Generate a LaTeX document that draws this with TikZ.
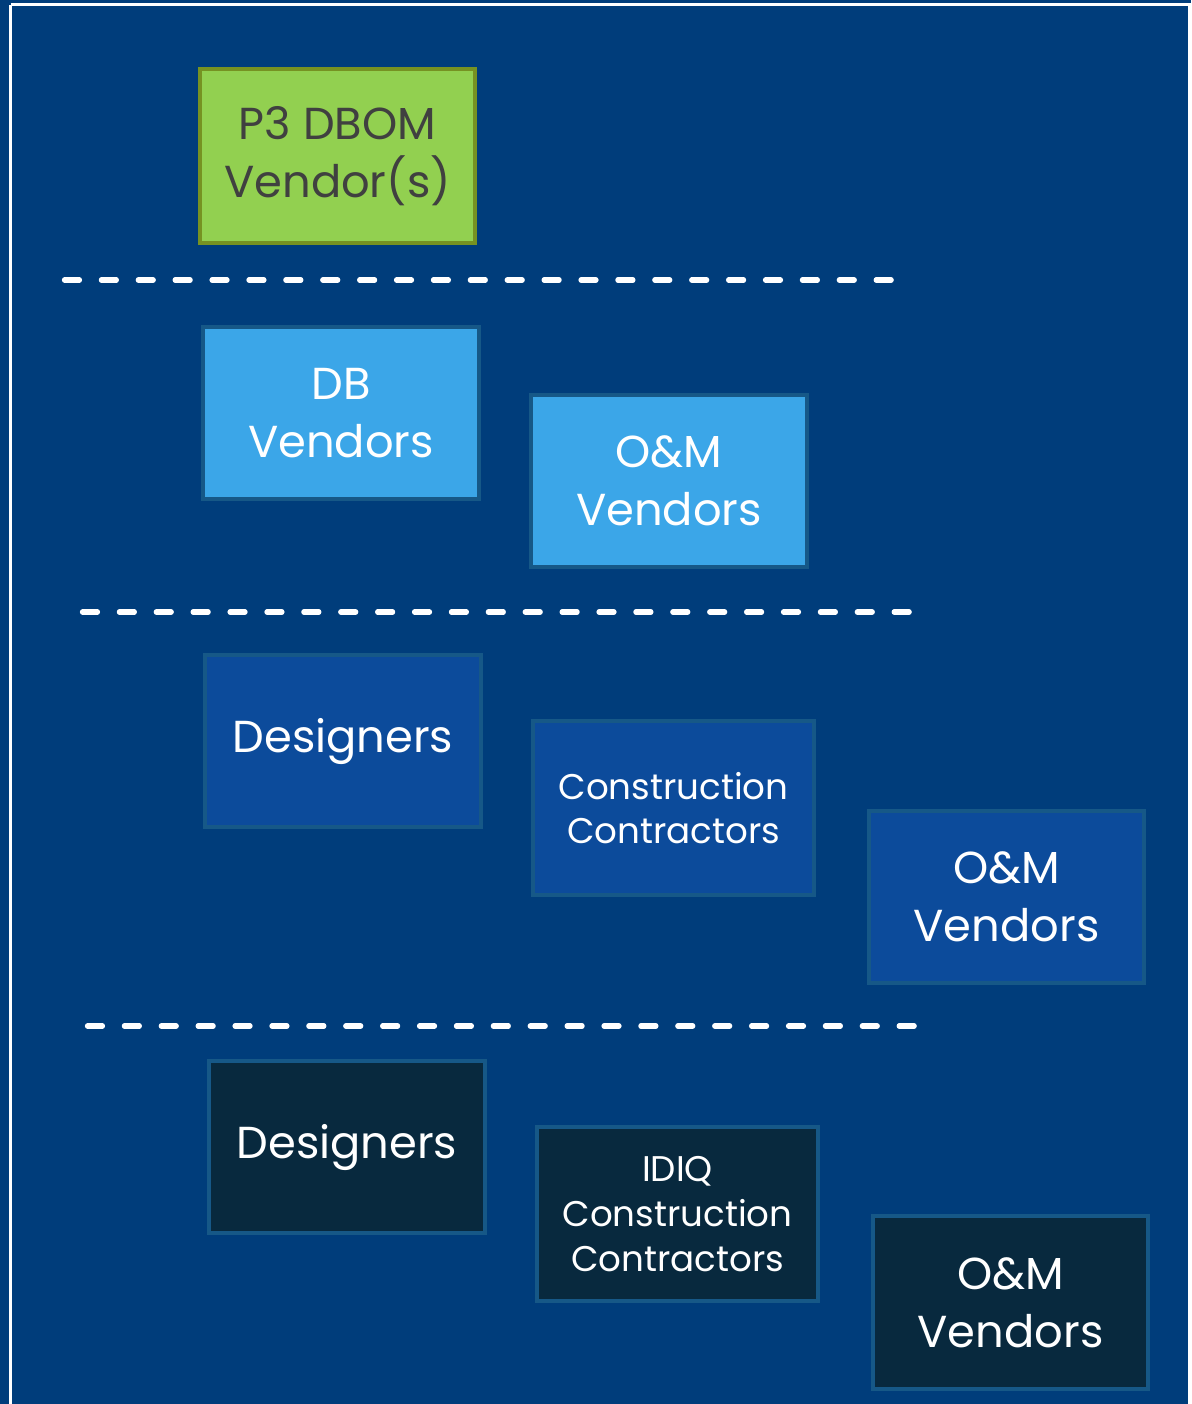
\documentclass[tikz,border=0pt]{standalone}
\usepackage{fontspec}
\setmainfont{Poppins}
\usepackage{tikz}
\usetikzlibrary{positioning}
\definecolor{slidebg}{RGB}{0,61,123}
\definecolor{pthreeG}{RGB}{146,208,80}
\definecolor{pthreeE}{RGB}{118,146,34}
\definecolor{dbblue}{RGB}{59,166,232}
\definecolor{midblue}{RGB}{12,75,155}
\definecolor{darknavy}{RGB}{8,41,62}
\definecolor{boxedge}{RGB}{22,88,135}
\definecolor{textgray}{RGB}{64,64,64}
\tikzset{
  vbox/.style={rectangle, minimum width=5.52cm, minimum height=3.46cm,
               inner sep=0pt, line width=0.08cm, draw=boxedge, fill=#1,
               text=white, align=center},
  widebox/.style={minimum width=5.62cm, minimum height=3.48cm},
  bigtxt/.style={font=\fontsize{25.5}{33}\selectfont},
  smalltxt/.style={font=\fontsize{20.3}{25.5}\selectfont},
  tierline/.style={white, line width=3pt, line cap=round,
                   dash pattern=on 8.5pt off 12.5pt},
}
\begin{document}
\begin{tikzpicture}[x=0.02cm,y=-0.02cm]
  \useasboundingbox (0,0) rectangle (1191,1404);
  \fill[slidebg] (0,0) rectangle (1191,1404);
  \draw[white, line width=0.06cm] (10.5,4.5) -- (1189,4.5) -- (1189,1420)
                                  (10.5,4.5) -- (10.5,1420);
  % P3
  \node[vbox=pthreeG, draw=pthreeE, text=textgray, bigtxt, minimum height=3.48cm] (ptre) at (337.5,156) {P3 DBOM\\Vendor(s)};
  % DB + O&M
  \node[vbox=dbblue, bigtxt] (dbv) at (341,413) {DB\\Vendors};
  \node[vbox=dbblue, bigtxt] (omtwo) at (669,481) {O\&M\\Vendors};
  % DBB
  \node[vbox=midblue, bigtxt] (desthree) at (343,741) {Designers};
  \node[vbox=midblue, widebox, smalltxt] (conthree) at (673.5,808) {Construction\\Contractors};
  \node[vbox=midblue, bigtxt] (omthree) at (1006.5,897) {O\&M\\Vendors};
  % IDIQ
  \node[vbox=darknavy, bigtxt] (desfour) at (347,1147) {Designers};
  \node[vbox=darknavy, widebox, smalltxt] (idiq) at (677.5,1214) {IDIQ\\Construction\\Contractors};
  \node[vbox=darknavy, bigtxt] (omfour) at (1010.5,1302.5) {O\&M\\Vendors};
  % separators
  \foreach \y/\xa/\xb in {280/64.5/897.5, 612/82.5/915.5, 1026/87.5/919.5}{
    \draw[tierline] (\xa,\y) -- (\xb,\y);
  }
\end{tikzpicture}
\end{document}
